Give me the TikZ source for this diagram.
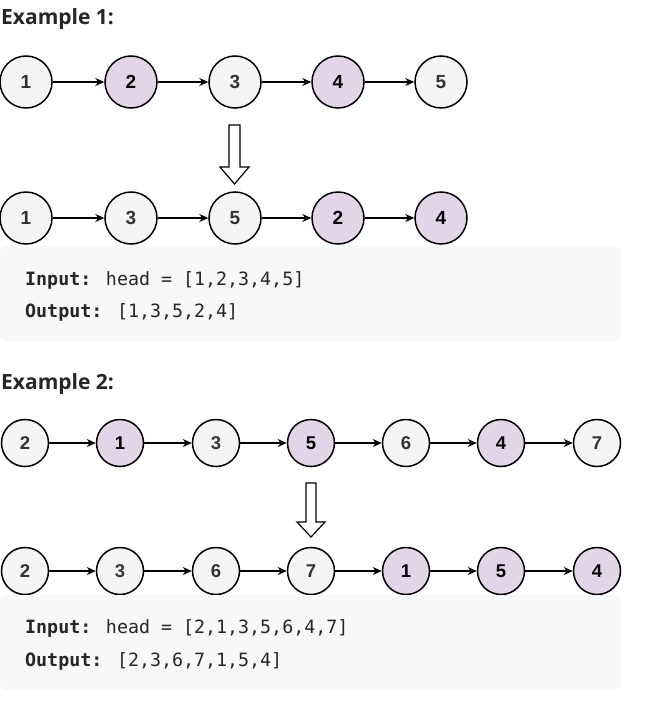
\documentclass[tikz,border=0pt]{standalone}
\usepackage{fontspec}
\setmainfont{Liberation Sans}
\newfontfamily\headfont{Open Sans}
\newfontfamily\codefont{DejaVu Sans Mono}
\usetikzlibrary{arrows.meta}
\definecolor{lightnode}{HTML}{F5F5F5}
\definecolor{purplenode}{HTML}{E1D5E7}
\definecolor{boxgray}{HTML}{F7F8FA}
\definecolor{headcol}{HTML}{262626}
\definecolor{numcol}{HTML}{333333}
\tikzset{
  circA/.style={circle, draw=black, line width=1.5pt, minimum size=52pt, inner sep=0pt,
    font=\bfseries\fontsize{19}{21}\selectfont, text=numcol},
  circB/.style={circA, minimum size=47pt, font=\bfseries\fontsize{18.5}{20}\selectfont},
  lt/.style={fill=lightnode},
  pp/.style={fill=purplenode, text=black},
  link/.style={-{Stealth[length=9pt,width=8pt]}, line width=1.2pt, black},
  head/.style={anchor=base west, inner sep=0pt, font=\headfont\bfseries\fontsize{21}{24}\selectfont, text=headcol},
  code/.style={anchor=base west, inner sep=0pt, font=\codefont\fontsize{18.3}{22}\selectfont, text=headcol},
  blockarrow/.style={draw=black, line width=1.2pt, fill=white, line join=miter},
  graybox/.style={fill=boxgray, rounded corners=6pt}
}
\begin{document}
\begin{tikzpicture}[x=1pt,y=-1pt]
\useasboundingbox[fill=white] (0,0) rectangle (650,725);

% Example 1
\node[head] (h1) at (1,25) {Example 1:};
\foreach \i/\x/\v/\s in {1/26/1/lt,2/131/2/pp,3/235/3/lt,4/338/4/pp,5/441/5/lt}
  \node[circA,\s] (a\i) at (\x,82) {\v};
\foreach \i/\j in {1/2,2/3,3/4,4/5} \draw[link] (a\i) -- (a\j);

\draw[blockarrow] (229,125) -- (240,125) -- (240,167) -- (249,167) -- (234.5,184) -- (220,167) -- (229,167) -- cycle;

\foreach \i/\x/\v/\s in {1/26/1/lt,2/131/3/lt,3/235/5/lt,4/338/2/pp,5/441/4/pp}
  \node[circA,\s] (b\i) at (\x,218) {\v};
\foreach \i/\j in {1/2,2/3,3/4,4/5} \draw[link] (b\i) -- (b\j);

\fill[graybox] (0,246) rectangle (621,341);
\node[code] (in1) at (25,285) {\textbf{Input:} head = [1,2,3,4,5]};
\node[code] (out1) at (25,317) {\textbf{Output:} [1,3,5,2,4]};

% Example 2
\node[head] (h2) at (1,389) {Example 2:};
\foreach \i/\x/\v/\s in {1/25/2/lt,2/120/1/pp,3/216/3/lt,4/311/5/pp,5/406/6/lt,6/501/4/pp,7/597/7/lt}
  \node[circB,\s] (c\i) at (\x,443) {\v};
\foreach \i/\j in {1/2,2/3,3/4,4/5,5/6,6/7} \draw[link] (c\i) -- (c\j);

\draw[blockarrow] (306,483) -- (316,483) -- (316,522) -- (325,522) -- (311,537) -- (297,522) -- (306,522) -- cycle;

\foreach \i/\x/\v/\s in {1/25/2/lt,2/120/3/lt,3/216/6/lt,4/311/7/lt,5/406/1/pp,6/501/5/pp,7/597/4/pp}
  \node[circB,\s] (d\i) at (\x,571) {\v};
\foreach \i/\j in {1/2,2/3,3/4,4/5,5/6,6/7} \draw[link] (d\i) -- (d\j);

\fill[graybox] (0,595) rectangle (621,690);
\node[code] (in2) at (25,633) {\textbf{Input:} head = [2,1,3,5,6,4,7]};
\node[code] (out2) at (25,666) {\textbf{Output:} [2,3,6,7,1,5,4]};
\end{tikzpicture}
\end{document}
